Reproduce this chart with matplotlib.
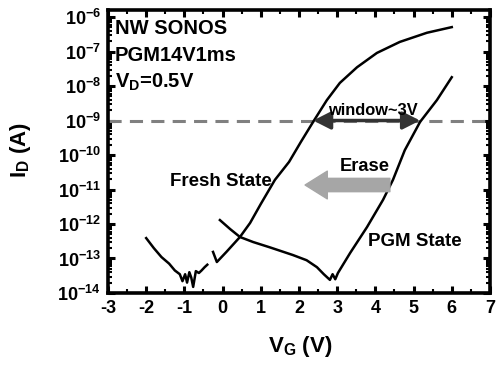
import numpy as np
import matplotlib
matplotlib.use('Agg')
import matplotlib.pyplot as plt
from matplotlib.ticker import LogLocator, FixedLocator, MultipleLocator, FuncFormatter, NullFormatter

plt.rcParams['font.family'] = ['Liberation Sans', 'DejaVu Sans']
plt.rcParams['font.weight'] = 'bold'
plt.rcParams['axes.labelweight'] = 'bold'
plt.rcParams['mathtext.fontset'] = 'custom'
plt.rcParams['mathtext.rm'] = 'Liberation Sans:bold'
plt.rcParams['mathtext.it'] = 'Liberation Sans:bold'
plt.rcParams['mathtext.bf'] = 'Liberation Sans:bold'
plt.rcParams['axes.unicode_minus'] = False

# Fresh state, noisy low-voltage part
fresh_low_vg = [-2.0, -1.8, -1.6, -1.4, -1.25, -1.12, -1.05, -0.98, -0.93, -0.87,
                -0.82, -0.77, -0.70, -0.62, -0.55, -0.47, -0.40]
fresh_low_id = [3.9e-13, 2.0e-13, 1.1e-13, 7.1e-14, 4.5e-14, 3.5e-14, 2.2e-14, 3.5e-14,
                2.0e-14, 4.0e-14, 2.8e-14, 1.5e-14, 4.3e-14, 3.8e-14, 4.5e-14, 5.6e-14, 6.6e-14]

# Fresh state, main sweep
fresh_vg = [-0.25, -0.15, 0.10, 0.455, 0.72, 1.0, 1.37, 1.74, 2.05, 2.37, 2.73, 3.07,
            3.52, 4.04, 4.64, 5.35, 6.0]
fresh_id = [1.55e-13, 7.9e-14, 1.55e-13, 4.2e-13, 1.07e-12, 3.8e-12, 1.9e-11, 6.3e-11,
            2.4e-10, 9.1e-10, 3.9e-9, 1.23e-8, 3.5e-8, 9.1e-8, 1.9e-7, 3.5e-7, 5.1e-7]

# Programmed state
pgm_vg = [-0.07, 0.2, 0.455, 0.8, 1.24, 1.84, 2.2, 2.47, 2.65, 2.76, 2.81, 2.88, 2.95,
          3.02, 3.34, 3.78, 4.2, 4.46, 4.77, 5.17, 5.61, 6.0]
pgm_id = [1.3e-12, 7.1e-13, 4.2e-13, 3.0e-13, 2.1e-13, 1.26e-13, 8.9e-14, 5.6e-14,
          3.5e-14, 2.7e-14, 2.4e-14, 3.5e-14, 2.5e-14, 3.8e-14, 1.45e-13, 8.1e-13,
          5.0e-12, 1.9e-11, 1.38e-10, 9.1e-10, 3.9e-9, 1.8e-8]

i_read = 1e-9
vt_fresh, vt_pgm = 2.37, 5.17

fig = plt.figure(figsize=(4.99, 3.66), dpi=100)
ax = fig.add_axes([0.2164, 0.1995, 0.7655, 0.7732])

ax.axhline(i_read, color='#808080', lw=2.2, dashes=(4.3, 2.7))
ax.plot(fresh_low_vg, fresh_low_id, color='black', lw=1.8)
ax.plot(fresh_vg, fresh_id, color='black', lw=1.8)
ax.plot(pgm_vg, pgm_id, color='black', lw=1.8)

ax.annotate('', xy=(vt_fresh, i_read), xytext=(vt_pgm, i_read),
            arrowprops=dict(arrowstyle='<|-|>,head_length=0.75,head_width=0.38',
                            color='#333333', lw=2.5, mutation_scale=14,
                            shrinkA=0, shrinkB=0))
ax.annotate('', xy=(2.16, 1.35e-11), xytext=(4.38, 1.35e-11),
            arrowprops=dict(arrowstyle='simple,head_length=1.0,head_width=1.25,tail_width=0.6',
                            color='#a6a6a6', mutation_scale=16, shrinkA=0, shrinkB=0))

ax.text(3.94, 2.0e-9, 'window~3V', fontsize=11.8, ha='center', va='center')
ax.text(3.73, 4.5e-11, 'Erase', fontsize=13.2, ha='center', va='center')
ax.text(-0.04, 1.7e-11, 'Fresh State', fontsize=13.5, ha='center', va='center')
ax.text(5.04, 3.2e-13, 'PGM State', fontsize=13.5, ha='center', va='center')
ax.text(-2.82, 4.6e-7, 'NW SONOS', fontsize=14.5, ha='left', va='center')
ax.text(-2.82, 7.8e-8, 'PGM14V1ms', fontsize=14.5, ha='left', va='center')
ax.text(-2.82, 1.3e-8, 'V$_{D}$=0.5V', fontsize=14.5, ha='left', va='center')

ax.set_xlim(-3, 7)
ax.set_yscale('log')
ax.set_ylim(1e-14, 1.6e-6)
ax.xaxis.set_major_locator(MultipleLocator(1))
ax.xaxis.set_minor_locator(MultipleLocator(0.5))
ax.yaxis.set_major_locator(FixedLocator([10.0 ** k for k in range(-14, -5)]))
ax.yaxis.set_minor_locator(LogLocator(base=10, subs=np.arange(2, 10), numticks=20))
ax.yaxis.set_minor_formatter(NullFormatter())
ax.yaxis.set_major_formatter(FuncFormatter(
    lambda v, p: r'$10^{%d}$' % int(round(np.log10(v)))))

ax.tick_params(which='both', direction='in', top=True, right=True)
ax.tick_params(which='major', length=5, width=2.2, labelsize=13, pad=5)
ax.tick_params(which='minor', length=3, width=1.5)
for s in ax.spines.values():
    s.set_linewidth(2.6)

ax.set_xlabel('V$_{G}$ (V)', fontsize=16)
ax.set_ylabel('I$_{D}$ (A)', fontsize=16)
ax.xaxis.set_label_coords(0.503, -0.145)
ax.yaxis.set_label_coords(-0.195, 0.505)

fig.savefig('out.png', dpi=100)
